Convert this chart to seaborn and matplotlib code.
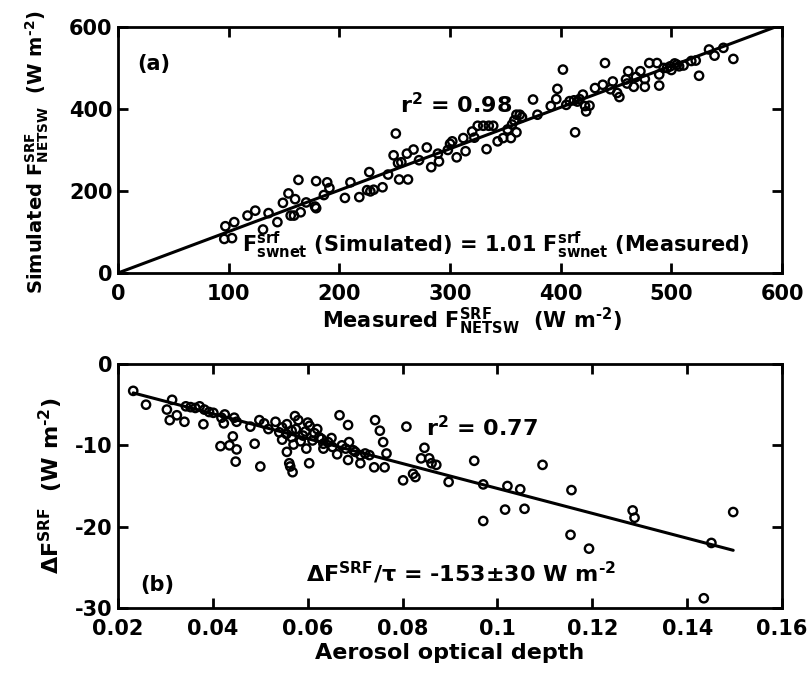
import numpy as np
import pandas as pd
import matplotlib
matplotlib.use('Agg')
import matplotlib.pyplot as plt
import seaborn as sns

# Panel (a): measured vs simulated net shortwave flux at surface (W m-2)
measured = [96, 103, 97, 105, 117, 124, 131, 136, 144, 149, 154, 156, 160, 163, 165, 159,
            178, 179, 179, 189, 191, 205, 210, 218, 225, 227, 228, 231, 239, 249, 251, 253,
            256, 261, 254, 262, 267, 279, 283, 289, 290, 300, 302, 306, 312, 314, 320, 325,
            330, 335, 339, 333, 343, 348, 355, 356, 360, 360, 363, 375, 379, 391, 397, 396,
            402, 408, 412, 417, 413, 420, 422, 423, 426, 431, 438, 440, 447, 451, 453, 459,
            461, 466, 468, 472, 476, 476, 480, 487, 489, 489, 493, 496, 499, 503, 507, 511,
            518, 522, 525, 534, 539, 547, 556, 365, 358, 352, 322, 298, 272, 244, 186, 170,
            405, 415, 445, 460, 500, 505]
simulated = [83, 85, 114, 124, 140, 152, 106, 146, 124, 171, 194, 140, 180, 227, 148, 140,
             162, 158, 224, 221, 207, 183, 221, 185, 202, 246, 199, 203, 209, 287, 340, 268,
             270, 291, 228, 228, 301, 306, 258, 291, 272, 315, 321, 282, 329, 297, 345, 359,
             359, 359, 359, 302, 321, 329, 329, 362, 343, 386, 386, 423, 386, 407, 449, 424,
             496, 419, 421, 424, 343, 435, 407, 394, 408, 451, 459, 512, 467, 439, 429, 472,
             492, 454, 478, 492, 454, 473, 512, 512, 457, 484, 500, 500, 504, 511, 504, 506,
             517, 518, 481, 545, 530, 549, 522, 380, 372, 350, 330, 300, 275, 240, 190, 172,
             410, 418, 448, 462, 495, 508]

# Panel (b): aerosol optical depth vs surface forcing (W m-2)
aod = [0.0232, 0.0259, 0.0303, 0.0309, 0.0314, 0.0324, 0.0340, 0.0343, 0.0353, 0.0363,
       0.0372, 0.0382, 0.0392, 0.0401, 0.0380, 0.0418, 0.0425, 0.0423, 0.0445, 0.0450,
       0.0416, 0.0435, 0.0442, 0.0450, 0.0448, 0.0479, 0.0488, 0.0500, 0.0498, 0.0508,
       0.0517, 0.0532, 0.0546, 0.0556, 0.0566, 0.0575, 0.0573, 0.0580, 0.0556, 0.0561,
       0.0563, 0.0568, 0.0546, 0.0566, 0.0585, 0.0595, 0.0604, 0.0614, 0.0624, 0.0633,
       0.0643, 0.0652, 0.0603, 0.0597, 0.0633, 0.0629, 0.0667, 0.0685, 0.0662, 0.0672,
       0.0687, 0.0696, 0.0685, 0.0711, 0.0721, 0.0730, 0.0711, 0.0742, 0.0752, 0.0759,
       0.0766, 0.0740, 0.0762, 0.0808, 0.0801, 0.0822, 0.0827, 0.0839, 0.0846, 0.0856,
       0.0861, 0.0871, 0.0897, 0.0951, 0.0970, 0.0970, 0.1016, 0.1021, 0.1048, 0.1057,
       0.1095, 0.1156, 0.1154, 0.1193, 0.1285, 0.1289, 0.1435, 0.1451, 0.1497,
       0.0555, 0.0570, 0.0590, 0.0610, 0.0620, 0.0540, 0.0600, 0.0650, 0.0680, 0.0700]
dforcing = [-3.3, -5.0, -5.6, -6.9, -4.4, -6.3, -7.1, -5.2, -5.3, -5.4,
            -5.2, -5.6, -5.9, -6.0, -7.4, -6.6, -6.2, -7.3, -6.6, -7.1,
            -10.1, -10.0, -8.9, -10.5, -12.0, -7.7, -9.8, -12.6, -6.9, -7.3,
            -8.0, -7.1, -7.8, -7.4, -8.2, -8.0, -6.4, -6.9, -10.8, -12.2,
            -12.6, -13.3, -9.3, -9.0, -9.5, -8.3, -7.6, -8.5, -9.0, -9.8,
            -9.6, -10.2, -12.2, -10.4, -10.4, -9.2, -6.3, -7.5, -11.1, -10.0,
            -9.6, -10.6, -11.8, -11.2, -11.0, -11.2, -12.2, -6.9, -8.2, -9.6,
            -11.0, -12.7, -12.7, -7.7, -14.3, -13.5, -13.9, -11.6, -10.3, -11.6,
            -12.2, -12.4, -14.5, -11.9, -14.8, -19.3, -17.9, -15.0, -15.4, -17.8,
            -12.4, -15.5, -21.0, -22.7, -18.0, -18.9, -28.8, -22.0, -18.2,
            -8.6, -9.9, -8.8, -9.4, -8.0, -8.4, -7.2, -9.1, -10.4, -10.8]

slope_a = 1.01
slope_b = -153.0

df_a = pd.DataFrame({'measured': measured, 'simulated': simulated})
df_b = pd.DataFrame({'aod': aod, 'dforcing': dforcing})

sns.set_theme(style='ticks')
plt.rcParams['font.family'] = ['DejaVu Sans']
plt.rcParams['font.weight'] = 'bold'
plt.rcParams['axes.labelweight'] = 'bold'
plt.rcParams['mathtext.fontset'] = 'dejavusans'
plt.rcParams['mathtext.default'] = 'bf'
for key in ['text.color', 'axes.labelcolor', 'xtick.color', 'ytick.color', 'axes.edgecolor']:
    plt.rcParams[key] = 'black'

fig = plt.figure(figsize=(8.09, 6.77), dpi=100)
ax1 = fig.add_axes([0.1459, 0.5968, 0.8208, 0.3634])
ax2 = fig.add_axes([0.1459, 0.1019, 0.8208, 0.3604])

marker_kw = dict(marker='o', s=36, facecolor='none', edgecolor='black', linewidth=1.7, zorder=3)
unit = r'(W m$^{\text{-}2}$)'

# (a)
sns.scatterplot(data=df_a, x='measured', y='simulated', ax=ax1, **marker_kw)
xa = np.array([0, 600])
sns.lineplot(x=xa, y=slope_a * xa, ax=ax1, color='black', linewidth=2.2)
ax1.set_xlim(0, 600)
ax1.set_ylim(0, 600)
ax1.set_xticks([0, 100, 200, 300, 400, 500, 600])
ax1.set_yticks([0, 200, 400, 600])
ax1.set_xlabel(r'Measured $F^{SRF}_{NETSW}$  ' + unit, fontsize=15, labelpad=1)
ax1.xaxis.label.set_x(0.533)
ax1.set_ylabel(r'Simulated $F^{SRF}_{NETSW}$  ' + unit, fontsize=14, labelpad=13)
ax1.yaxis.label.set_y(0.49)
ax1.text(17, 510, '(a)', fontsize=15, fontweight='bold', va='center')
ax1.text(255, 390, r'r$^{2}$ = 0.98', fontsize=16, fontweight='bold', va='baseline')
ax1.text(112, 51, r'$F^{srf}_{swnet}$ (Simulated) = 1.01 $F^{srf}_{swnet}$ (Measured)',
         fontsize=15, fontweight='bold', va='baseline')

# (b)
sns.scatterplot(data=df_b, x='aod', y='dforcing', ax=ax2, **marker_kw)
xb = np.array([min(aod), max(aod)])
sns.lineplot(x=xb, y=slope_b * xb, ax=ax2, color='black', linewidth=2.2)
ax2.set_xlim(0.02, 0.16)
ax2.set_ylim(-30, 0)
ax2.set_xticks([0.02, 0.04, 0.06, 0.08, 0.1, 0.12, 0.14, 0.16])
ax2.set_xticklabels(['0.02', '0.04', '0.06', '0.08', '0.1', '0.12', '0.14', '0.16'])
ax2.set_yticks([-30, -20, -10, 0])
ax2.set_yticklabels(['-30', '-20', '-10', '0'])
ax2.set_xlabel('Aerosol optical depth', fontsize=16, labelpad=3)
ax2.set_ylabel(r'$\Delta F^{SRF}$  ' + unit, fontsize=16, labelpad=7)
ax2.text(0.0246, -27.2, '(b)', fontsize=15, fontweight='bold', va='center')
ax2.text(0.085, -8.85, r'r$^{2}$ = 0.77', fontsize=16, fontweight='bold', va='baseline')
ax2.text(0.0596, -26.8, r'$\Delta F^{SRF}/\tau$ = -153$\pm$30 W m$^{\text{-}2}$',
         fontsize=16, fontweight='bold', va='baseline')

for ax in (ax1, ax2):
    for sp in ax.spines.values():
        sp.set_visible(True)
        sp.set_linewidth(2)
        sp.set_color('black')
    ax.tick_params(direction='in', length=7, width=2, top=True, right=True,
                   labelsize=15, colors='black')
    ax.tick_params(axis='x', pad=8)
    ax.tick_params(axis='y', pad=4)
    for lbl in ax.get_xticklabels() + ax.get_yticklabels():
        lbl.set_fontweight('bold')

fig.savefig('out.png', dpi=100)
